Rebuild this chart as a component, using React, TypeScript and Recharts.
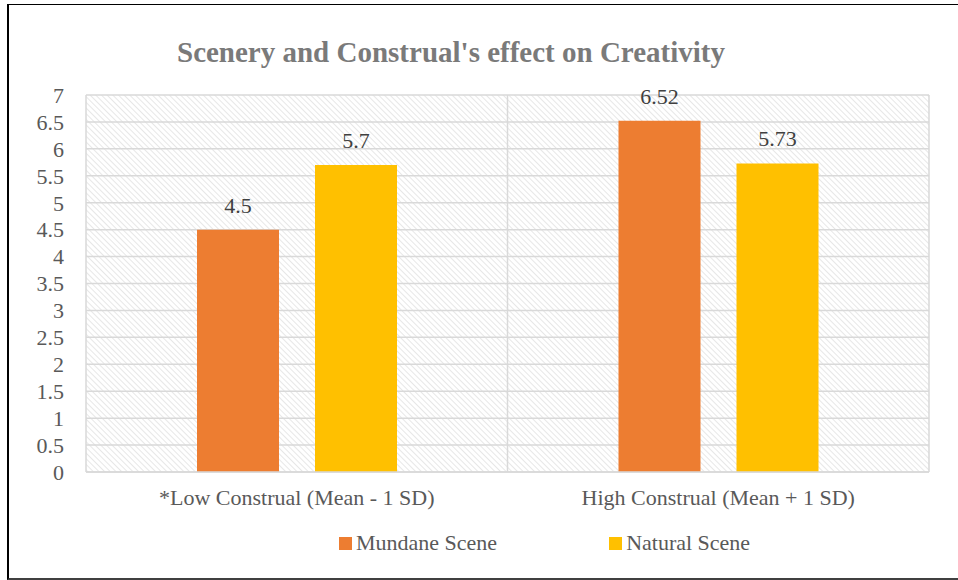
import React from 'react';
import {
  BarChart,
  Bar,
  XAxis,
  YAxis,
  CartesianGrid,
  Legend,
  LabelList,
} from 'recharts';

const categories = ['*Low Construal (Mean - 1 SD)', 'High Construal (Mean + 1 SD)'];
const mundaneScene = [4.5, 6.52];
const naturalScene = [5.7, 5.73];
const yTicks = [0, 0.5, 1, 1.5, 2, 2.5, 3, 3.5, 4, 4.5, 5, 5.5, 6, 6.5, 7];

const seriesInfo = [
  { key: 'mundane', name: 'Mundane Scene', color: '#ED7D31' },
  { key: 'natural', name: 'Natural Scene', color: '#FFC000' },
];

const data = categories.map((c, i) => ({
  category: c,
  mundane: mundaneScene[i],
  natural: naturalScene[i],
}));

const FONT = "'Liberation Serif', Tinos, 'Times New Roman', Times, 'DejaVu Serif', serif";

const renderLegend = () => (
  <div style={{ display: 'flex', alignItems: 'center', fontFamily: FONT, fontSize: 22, color: '#595959' }}>
    {seriesInfo.map((s, i) => (
      <div key={s.key} style={{ display: 'flex', alignItems: 'center', marginRight: i === 0 ? 112 : 0 }}>
        <span style={{ width: 13, height: 13, background: s.color, marginRight: 4, display: 'inline-block' }} />
        <span>{s.name}</span>
      </div>
    ))}
  </div>
);

export default function App() {
  return (
    <div style={{ position: 'absolute', left: 0, top: 0, width: 958, height: 580, overflow: 'hidden', background: '#fff', fontFamily: FONT }}>
      <div
        style={{
          position: 'absolute',
          left: 7,
          top: 4,
          width: 1000,
          height: 573,
          borderTop: '1px solid #000',
          borderLeft: '2px solid #000',
          borderBottom: '2px solid #404040',
        }}
      />
      <div
        style={{
          position: 'absolute',
          left: 0,
          top: 38,
          width: 902,
          textAlign: 'center',
          fontFamily: FONT,
          fontWeight: 'bold',
          fontSize: 29,
          lineHeight: '29px',
          color: '#7a7a7a',
        }}
      >
        Scenery and Construal's effect on Creativity
      </div>
      <div style={{ position: 'absolute', left: 0, top: 0 }}>
        <BarChart
          width={958}
          height={580}
          data={data}
          margin={{ top: 95, right: 29, bottom: 78, left: 26 }}
          barGap={36}
          barSize={82}
          style={{ fontFamily: FONT }}
        >
          <defs>
            <pattern id="hatch" patternUnits="userSpaceOnUse" width="4" height="4" patternTransform="rotate(-45)">
              <line x1="0" y1="0" x2="0" y2="4" stroke="#d6d6d6" strokeWidth="1.2" />
            </pattern>
          </defs>
          <CartesianGrid
            fill="url(#hatch)"
            stroke="#d9d9d9"
            strokeWidth={1.5}
            verticalCoordinatesGenerator={({ offset }: any) => [
              offset.left,
              offset.left + offset.width / 2,
              offset.left + offset.width,
            ]}
          />
          <XAxis
            dataKey="category"
            height={30}
            tickSize={0}
            tickMargin={17}
            axisLine={{ stroke: '#d9d9d9', strokeWidth: 1.5 }}
            tick={{ fill: '#595959', fontSize: 22, fontFamily: FONT }}
          />
          <YAxis
            width={60}
            domain={[0, 7]}
            ticks={yTicks}
            interval={0}
            tickSize={0}
            tickMargin={22}
            axisLine={false}
            tick={{ fill: '#595959', fontSize: 22, fontFamily: FONT }}
          />
          <Legend
            verticalAlign="middle"
            align="center"
            content={renderLegend}
            wrapperStyle={{ left: 339, top: 530, width: 520, height: 30 }}
          />
          {seriesInfo.map((s) => (
            <Bar key={s.key} dataKey={s.key} name={s.name} fill={s.color} isAnimationActive={false}>
              <LabelList
                dataKey={s.key}
                position="top"
                offset={17}
                fill="#404040"
                fontSize={22}
                fontFamily={FONT}
              />
            </Bar>
          ))}
        </BarChart>
      </div>
    </div>
  );
}
